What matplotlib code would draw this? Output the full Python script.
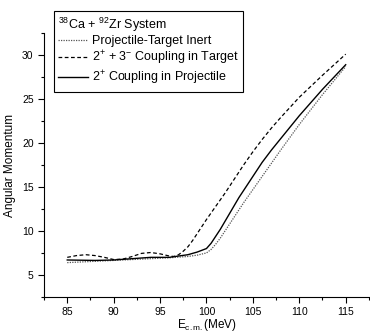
import matplotlib
matplotlib.use('Agg')
import matplotlib.pyplot as plt
from matplotlib.ticker import MultipleLocator

plt.rcParams['font.family'] = ['Liberation Sans', 'DejaVu Sans']
plt.rcParams['mathtext.fontset'] = 'custom'
plt.rcParams['mathtext.rm'] = 'Liberation Sans'
plt.rcParams['mathtext.it'] = 'Liberation Sans'

# Energy grids (MeV) and angular momentum values
e_inert = [85, 87, 90, 92, 94, 96, 98, 99, 100, 100.5, 101, 101.5, 102, 102.5,
           103, 103.5, 104, 105, 106, 108, 110, 112.5, 115]
l_inert = [6.4, 6.5, 6.65, 6.75, 6.85, 6.95, 7.1, 7.25, 7.5, 7.9, 8.5, 9.2, 10.0,
           10.8, 11.6, 12.4, 13.2, 14.7, 16.2, 19.2, 22.1, 25.5, 28.7]

e_target = [85, 86, 87, 88, 89, 90, 91, 92, 93, 94, 95, 96, 96.5, 97, 97.5, 98,
            98.5, 99, 99.5, 100, 101, 102, 103, 104, 105, 106, 107, 108, 110,
            112.5, 115]
l_target = [7.0, 7.2, 7.3, 7.2, 7.0, 6.75, 6.8, 7.1, 7.45, 7.55, 7.4, 7.15, 7.1,
            7.3, 7.7, 8.2, 8.9, 9.7, 10.5, 11.3, 12.8, 14.3, 15.9, 17.5, 19.0,
            20.4, 21.7, 22.9, 25.2, 27.7, 30.1]

e_proj = [85, 88, 90, 92, 94, 96, 98, 99, 100, 100.5, 101, 101.5, 102, 102.5,
          103, 103.5, 104, 105, 106, 107, 108, 110, 112.5, 115]
l_proj = [6.7, 6.65, 6.7, 6.85, 7.0, 7.0, 7.3, 7.6, 8.0, 8.6, 9.4, 10.2, 11.1,
          12.0, 12.9, 13.8, 14.6, 16.2, 17.8, 19.2, 20.5, 23.1, 26.1, 28.9]

fig = plt.figure(figsize=(3.70, 3.34), dpi=100)
ax = fig.add_axes([0.119, 0.111, 0.878, 0.79])

ax.plot(e_inert, l_inert, color='#555555', linestyle=(0, (1, 1)), linewidth=0.9,
        label='Projectile-Target Inert')
ax.plot(e_target, l_target, color='black', linestyle=(0, (3, 2)), linewidth=0.9,
        label='2$^{+}$ + 3$^{-}$ Coupling in Target')
ax.plot(e_proj, l_proj, color='black', linestyle='-', linewidth=1.0,
        label='2$^{+}$ Coupling in Projectile')

ax.set_xlim(82.5, 117.5)
ax.set_ylim(2.5, 32.5)
ax.xaxis.set_major_locator(MultipleLocator(5))
ax.xaxis.set_minor_locator(MultipleLocator(2.5))
ax.yaxis.set_major_locator(MultipleLocator(5))
ax.yaxis.set_minor_locator(MultipleLocator(2.5))
ax.tick_params(which='both', direction='out', labelsize=7.5, width=0.8)
ax.tick_params(which='major', length=4)
ax.tick_params(which='minor', length=2.5)
ax.spines['top'].set_visible(False)
ax.spines['right'].set_visible(False)

ax.set_xlabel('E$_{c.m.}$(MeV)', fontsize=8.5, labelpad=0)
ax.set_ylabel('Angular Momentum', fontsize=8.5, labelpad=4)

leg = fig.legend(loc='upper left', bbox_to_anchor=(0.146, 0.967),
                 title='$^{38}$Ca + $^{92}$Zr System', title_fontsize=9,
                 fontsize=9, frameon=True, fancybox=False, framealpha=1,
                 edgecolor='black', handlelength=2.4, handletextpad=0.3,
                 labelspacing=0.15, borderpad=0.35, borderaxespad=0)
leg._legend_box.align = 'left'
leg.get_frame().set_linewidth(0.8)

fig.savefig('out.png', dpi=100)
